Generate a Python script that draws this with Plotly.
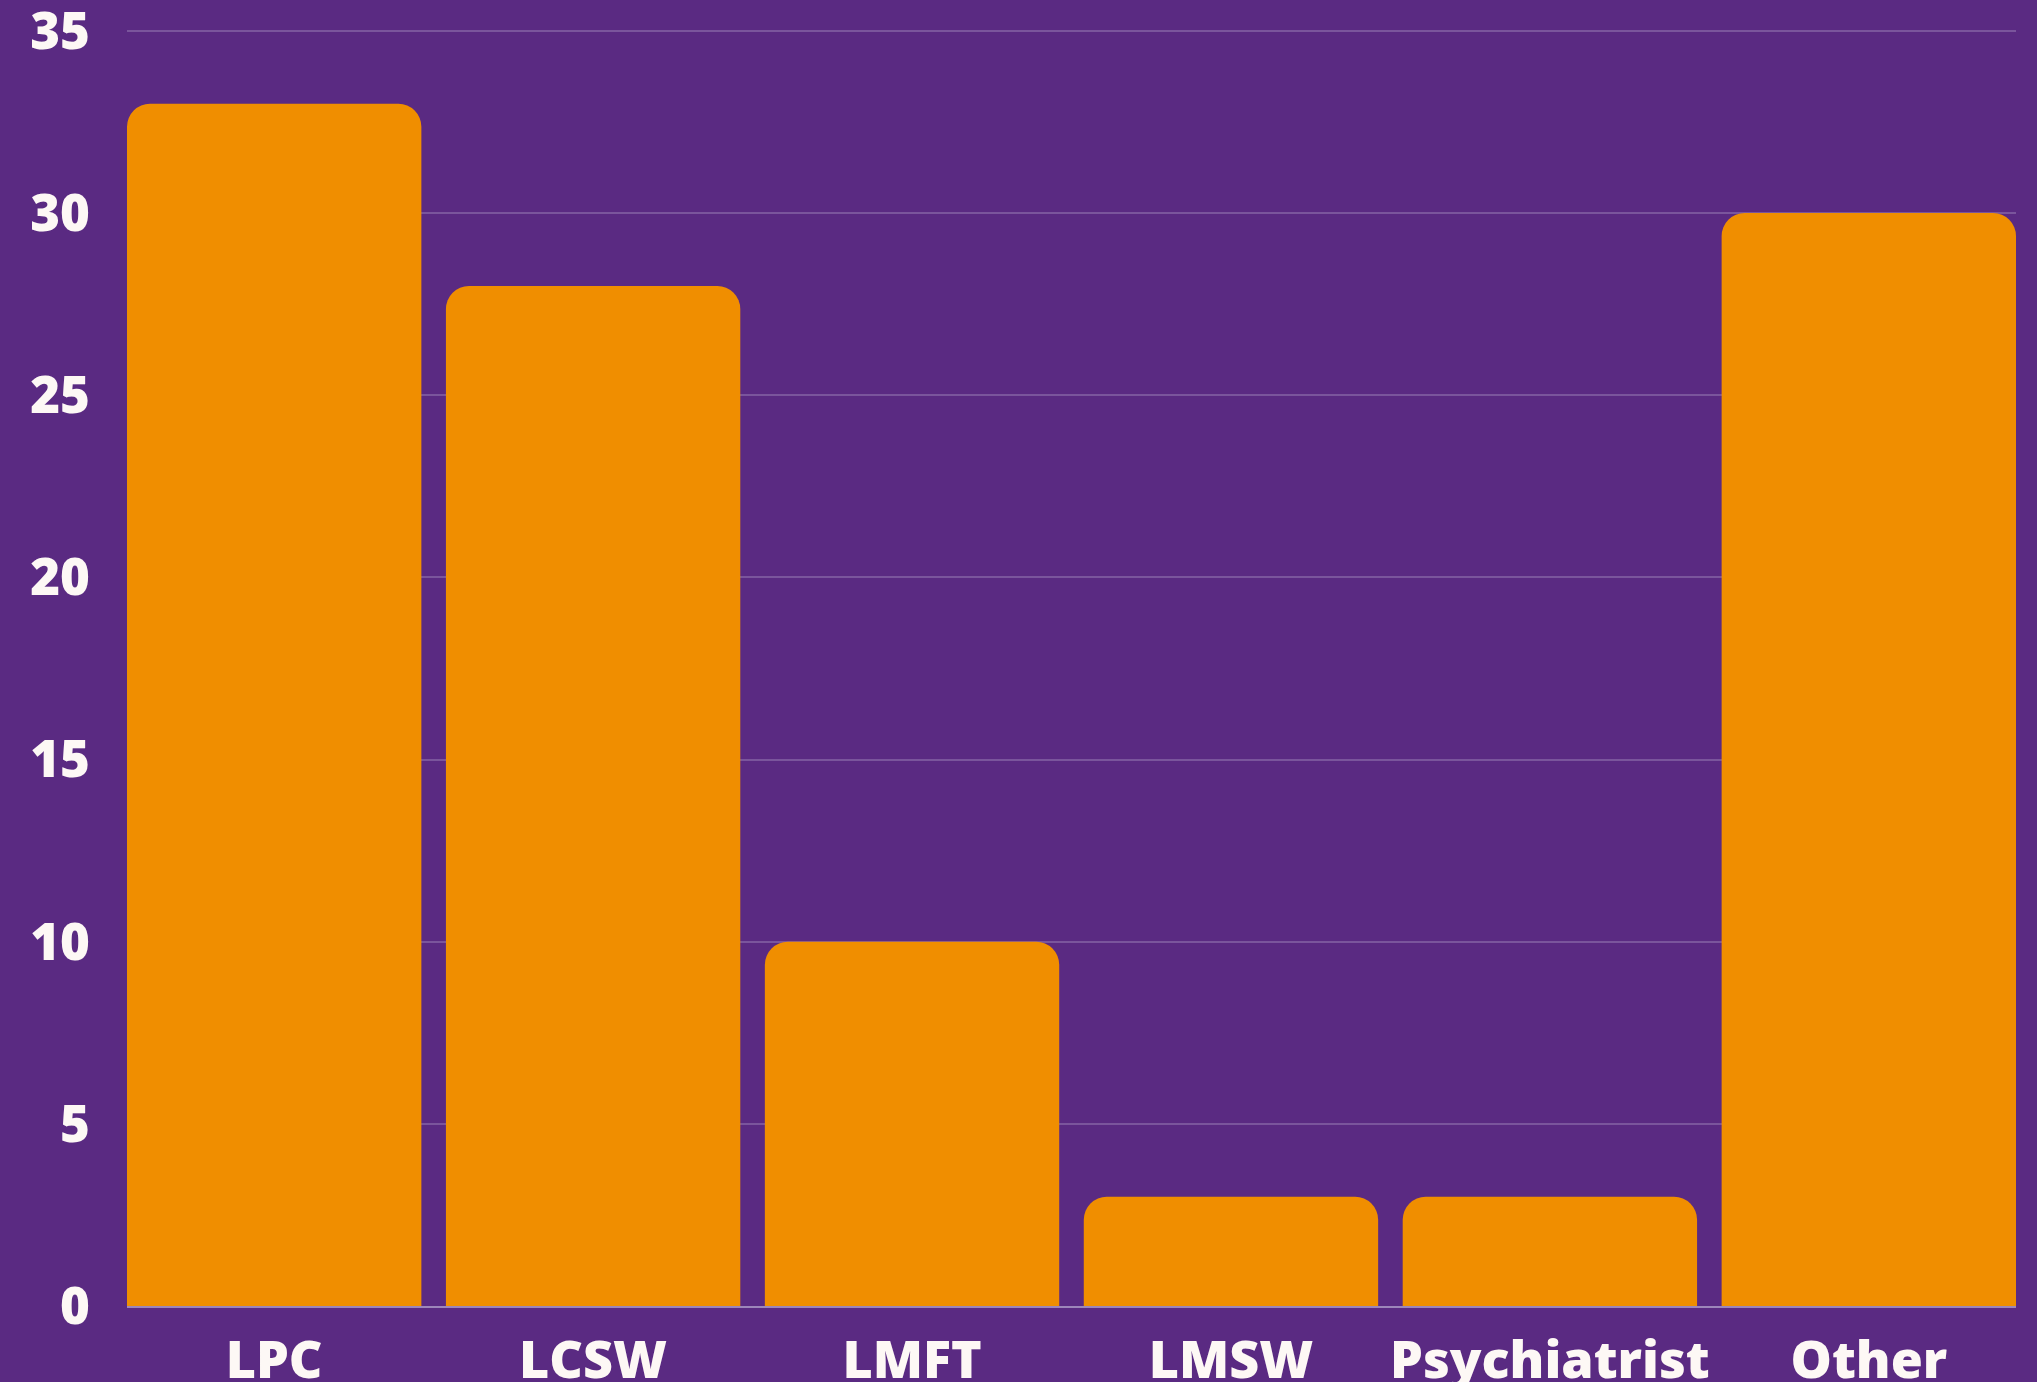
import plotly.graph_objects as go

categories = ["LPC", "LCSW", "LMFT", "LMSW", "Psychiatrist", "Other"]
values = [33, 28, 10, 3, 3, 30]
y_ticks = [0, 5, 10, 15, 20, 25, 30, 35]

BG = "#5a2a82"
BAR = "#f08e00"
TEXT = "#fdf8f5"
GRID = "#7a559c"
FONT = "Open Sans, Lato, sans-serif"

fig = go.Figure(
    go.Bar(
        x=categories,
        y=values,
        marker=dict(color=BAR, line=dict(width=0), cornerradius=23),
    )
)

fig.update_layout(
    width=2037,
    height=1382,
    paper_bgcolor=BG,
    plot_bgcolor=BG,
    margin=dict(l=127, r=21, t=20, b=76, autoexpand=False),
    bargap=0.077,
    showlegend=False,
    font=dict(family=FONT, color=TEXT, size=50, weight=800),
)

fig.update_xaxes(
    range=[-0.4615, 5.4615],
    showgrid=False,
    showline=True,
    linecolor="#9d86ba",
    linewidth=2,
    ticks="",
    automargin=False,
    tickfont=dict(size=52, color=TEXT, family=FONT, weight=800),
    ticklabelstandoff=8,
    ticklabeloverflow="allow",
    fixedrange=True,
)

fig.update_yaxes(
    range=[0, 35.3],
    tickvals=y_ticks,
    showgrid=True,
    gridcolor=GRID,
    gridwidth=1.5,
    zeroline=False,
    showline=False,
    ticks="",
    automargin=False,
    tickfont=dict(size=51, color=TEXT, family=FONT, weight=800),
    ticklabelstandoff=36,
    ticklabeloverflow="allow",
    fixedrange=True,
)

fig.write_html("out.html")
